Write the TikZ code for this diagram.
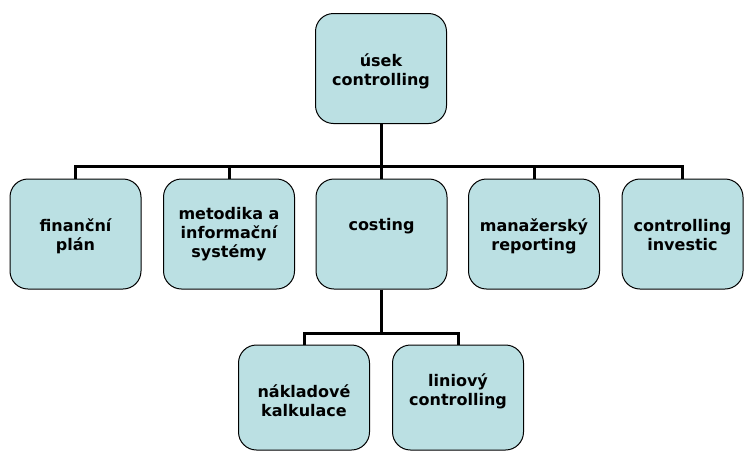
\documentclass[tikz,border=0pt]{standalone}
\usepackage{fontspec}
\setmainfont{DejaVu Sans}
\usepackage{xcolor}
\usepackage{tikz}
\usetikzlibrary{positioning}
\definecolor{cBox}{RGB}{187,224,227}
\tikzset{
  orgbox/.style={draw=black,fill=cBox,rounded corners=18pt,align=center,
                 line width=1pt,inner sep=0pt,
                 font=\bfseries\fontsize{16}{19}\selectfont,
                 text height=33pt,text depth=0pt,
                 minimum width=131pt,minimum height=110pt},
  lowbox/.style={orgbox,minimum height=105pt},
  tree/.style={line width=3pt,black},
}

\begin{document}
\begin{tikzpicture}[x=1pt,y=-1pt]
    \useasboundingbox (0,0) rectangle (744,451);
    % top
    \node[orgbox] (usek) at (381,68.5) {úsek\\controlling};
    % second row
    \node[orgbox] (fin) at (75.5,234) {finanční\\plán};
    \node[orgbox,text height=47pt] (met) at (229,234) {metodika a\\informační\\systémy};
    \node[orgbox,text height=12pt,text depth=19pt] (cost) at (381.5,234) {costing};
    \node[orgbox] (man) at (534,234) {manažerský\\reporting};
    \node[orgbox,minimum width=121pt] (inv) at (682.5,234) {controlling\\investic};
    % third row
    \node[lowbox,text height=37pt] (nakl) at (304,397.5) {nákladové\\kalkulace};
    \node[lowbox,text height=15pt] (lin) at (458,397.5) {liniový\\controlling};
    % connectors
    \coordinate (bar) at (0,166);
    \coordinate (subbar) at (0,333);
    \draw[tree] (usek.south) -- (usek.south |- bar);
    \draw[tree] (fin.north) -- (fin.north |- bar) -- (inv.north |- bar) -- (inv.north);
    \draw[tree] (met.north) -- (met.north |- bar);
    \draw[tree] (cost.north) -- (cost.north |- bar);
    \draw[tree] (man.north) -- (man.north |- bar);
    \draw[tree] (cost.south) -- (cost.south |- subbar);
    \draw[tree] (nakl.north) -- (nakl.north |- subbar) -- (lin.north |- subbar) -- (lin.north);
\end{tikzpicture}
\end{document}
